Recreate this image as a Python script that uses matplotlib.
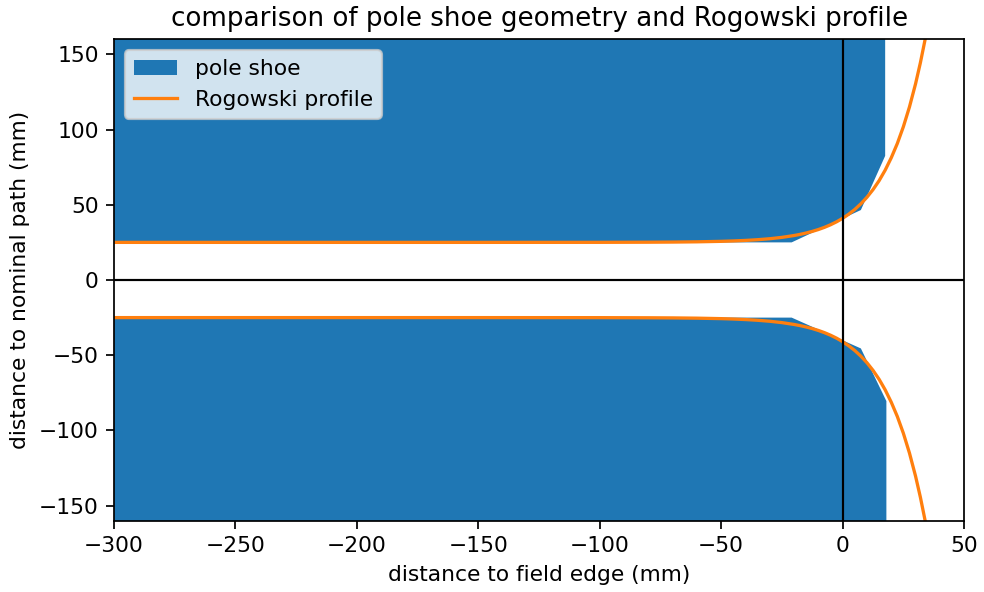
import numpy as np
import matplotlib
matplotlib.use("Agg")
from matplotlib import pyplot as plt

# pole shoe outline, upper half (mm)
shoe_x = [-300, -21, 7.5, 17.5, 17.5, -300]
shoe_y_upper = [25, 25, 46.5, 82.5, 200, 200]
# lower half is slightly different near the edge
shoe_x_lower = [-300, -21, 7.5, 18, 18, -300]
shoe_y_lower = [-25, -25, -45.5, -80.5, -200, -200]

# Rogowski profile points (mm)
rog_x = [-300, -200, -150, -100, -80, -70, -60, -50, -45, -40, -35, -30, -25,
         -20, -17.5, -15, -12.5, -10, -7.5, -5, -2.5, 0, 2.5, 5, 7.5, 10, 12.5,
         15, 17.5, 20, 22.5, 25, 27.5, 30, 32, 34, 35]
rog_y = [25.0, 25.0, 25.0, 25.03, 25.11, 25.2, 25.37, 25.69, 25.95, 26.3,
         26.78, 27.43, 28.33, 29.56, 30.33, 31.24, 32.3, 33.54, 34.99, 36.7,
         38.68, 41.0, 43.72, 46.9, 50.63, 55.0, 60.08, 66.0, 73.0, 81.2, 90.7,
         101.9, 115.0, 130.3, 144.4, 160.3, 169.1]

fig = plt.figure(figsize=(6.268, 3.771), dpi=157)
ax = fig.add_axes([0.1159, 0.1204, 0.8638, 0.8132])

ax.fill(shoe_x, shoe_y_upper, color="C0", lw=0, label="pole shoe")
ax.fill(shoe_x_lower, shoe_y_lower, color="C0", lw=0)
ax.plot(rog_x, rog_y, color="C1", label="Rogowski profile")
ax.plot(rog_x, [-v for v in rog_y], color="C1")

ax.axhline(0, color="k", lw=1)
ax.axvline(0, color="k", lw=1)

ax.set_xlim(-300, 50)
ax.set_ylim(-160, 160)
ax.set_xlabel("distance to field edge (mm)")
ax.set_ylabel("distance to nominal path (mm)")
ax.set_title("comparison of pole shoe geometry and Rogowski profile", fontsize=12)
ax.legend(loc="upper left")

fig.savefig("out.png", dpi=157)
